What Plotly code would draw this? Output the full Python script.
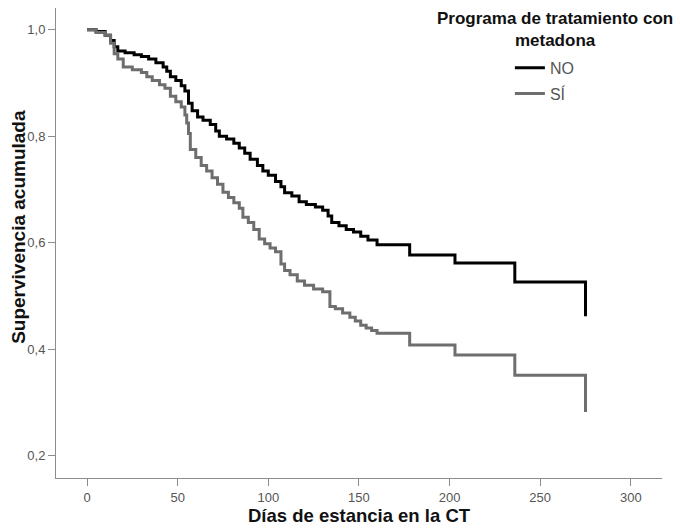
import plotly.graph_objects as go

# Kaplan-Meier survival estimates
no_days = [0, 5, 10, 13, 15, 17, 21, 26, 30, 34, 38, 42, 44, 46, 49, 52, 54, 56, 58, 61,
           64, 68, 71, 73, 77, 81, 84, 87, 90, 94, 97, 100, 104, 107, 109, 113, 117, 121, 126, 130,
           133, 135, 139, 143, 147, 151, 155, 160, 178, 203, 236, 275]
no_surv = [1.0, 0.997, 0.99, 0.98, 0.968, 0.96, 0.957, 0.953, 0.95, 0.945, 0.938, 0.93, 0.922, 0.912, 0.905, 0.895, 0.885, 0.862, 0.848, 0.836,
           0.83, 0.822, 0.81, 0.8, 0.795, 0.787, 0.778, 0.768, 0.757, 0.745, 0.735, 0.727, 0.715, 0.705, 0.694, 0.688, 0.677, 0.672, 0.667, 0.661,
           0.65, 0.638, 0.632, 0.625, 0.62, 0.612, 0.605, 0.596, 0.577, 0.562, 0.526, 0.462]

si_days = [0, 5, 10, 13, 15, 17, 20, 25, 30, 33, 36, 40, 43, 46, 49, 52, 54, 55, 56, 57,
           60, 63, 66, 69, 72, 75, 78, 81, 84, 86, 89, 92, 95, 98, 101, 104, 107, 109, 112, 116,
           120, 125, 130, 134, 137, 141, 145, 148, 151, 154, 157, 160, 178, 203, 236, 275]
si_surv = [1.0, 0.995, 0.99, 0.975, 0.955, 0.945, 0.93, 0.925, 0.92, 0.912, 0.905, 0.897, 0.89, 0.875, 0.865, 0.855, 0.84, 0.825, 0.805, 0.775,
           0.76, 0.745, 0.735, 0.722, 0.71, 0.695, 0.685, 0.675, 0.665, 0.648, 0.638, 0.625, 0.607, 0.598, 0.59, 0.583, 0.56, 0.548, 0.54, 0.528,
           0.52, 0.513, 0.508, 0.48, 0.476, 0.468, 0.46, 0.453, 0.445, 0.44, 0.435, 0.43, 0.408, 0.389, 0.351, 0.282]

x_ticks = [0, 50, 100, 150, 200, 250, 300]
y_ticks = [0.2, 0.4, 0.6, 0.8, 1.0]

FONT = "Liberation Sans, Arial, sans-serif"

fig = go.Figure()
fig.add_trace(go.Scatter(x=no_days, y=no_surv, mode="lines", line_shape="hv",
                         line=dict(color="#000000", width=3), name="NO", legendgroup="a"))
fig.add_trace(go.Scatter(x=si_days, y=si_surv, mode="lines", line_shape="hv",
                         line=dict(color="#6e6e6e", width=3), name="SÍ", legendgroup="b"))

axis_common = dict(showline=True, linecolor="#8c8c8c", linewidth=1, ticks="outside",
                   tickcolor="#8c8c8c", ticklen=7, tickwidth=1, showgrid=False, zeroline=False,
                   tickfont=dict(family=FONT, size=13, color="#555555"))

fig.update_xaxes(range=[-17.1, 317.2], tickvals=x_ticks, **axis_common,
                 title=dict(text="<b>Días de estancia en la CT</b>", standoff=4,
                            font=dict(family=FONT, size=18.5, color="#111111")))
fig.update_yaxes(range=[0.158, 1.041], tickvals=y_ticks, tickformat=".1f", **axis_common)

fig.add_annotation(text="<b>Supervivencia acumulada</b>", xref="paper", yref="paper",
                   x=-0.063, y=0.534, xanchor="center", yanchor="middle", textangle=-90,
                   showarrow=False, font=dict(family=FONT, size=19, color="#111111"))

fig.add_annotation(text="<b>Programa de tratamiento con<br>metadona</b>", xref="paper", yref="paper",
                   x=0.823, y=1.003, xanchor="center", yanchor="top", showarrow=False,
                   font=dict(family=FONT, size=17, color="#111111"))

fig.update_layout(
    width=680, height=532, separators=",.",
    margin=dict(l=56, r=18, t=8, b=54),
    paper_bgcolor="white", plot_bgcolor="white",
    showlegend=True,
    legend=dict(x=0.749, y=0.909, xanchor="left", yanchor="top", traceorder="grouped",
                tracegroupgap=2, itemwidth=30, bgcolor="rgba(0,0,0,0)",
                font=dict(family=FONT, size=16, color="#555555")),
)

fig.write_html("out.html")
